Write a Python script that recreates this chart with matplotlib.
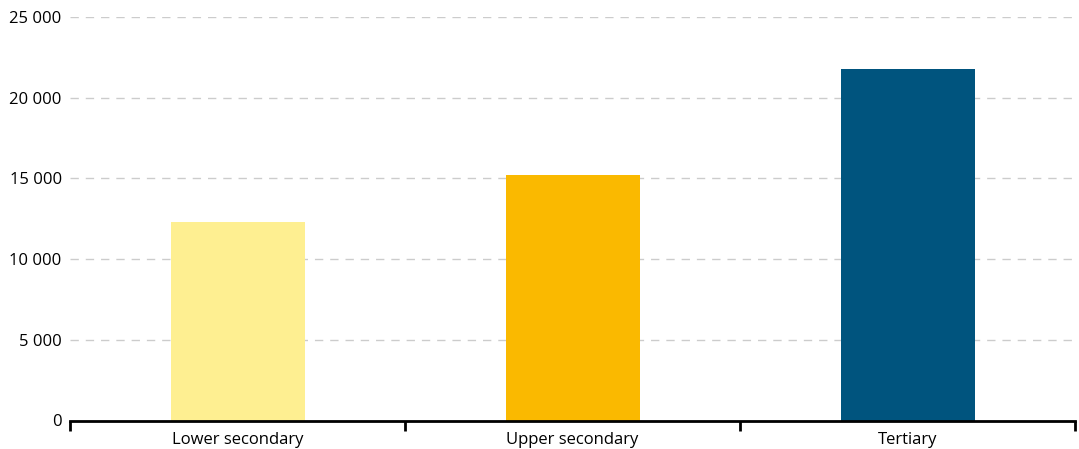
import matplotlib
matplotlib.use("Agg")
import matplotlib.pyplot as plt
from matplotlib.ticker import FuncFormatter, FixedLocator

categories = ["Lower secondary", "Upper secondary", "Tertiary"]
values = [12300, 15200, 21750]
colors = ["#FEEF91", "#FAB900", "#00547E"]

plt.rcParams["font.family"] = ["Open Sans", "DejaVu Sans"]

fig = plt.figure(figsize=(10.79, 4.49), dpi=100)
ax = fig.add_axes([70 / 1079, (449 - 420.5) / 449, 1005 / 1079, (420.5 - 17) / 449])

x = range(len(categories))
ax.bar(x, values, width=0.4, color=colors, zorder=2)

ax.set_xlim(-0.5, 2.5)
ax.set_ylim(0, 25000)
ax.set_yticks(range(0, 25001, 5000))
ax.yaxis.set_major_formatter(FuncFormatter(lambda v, p: f"{int(v):,}".replace(",", " ")))
ax.grid(axis="y", color="#CCCCCC", linestyle=(0, (6, 5)), linewidth=1, zorder=0)

ax.set_xticks(list(x))
ax.set_xticklabels(categories)
ax.xaxis.set_minor_locator(FixedLocator([-0.5, 0.5, 1.5, 2.5]))
ax.tick_params(axis="x", which="major", length=0, pad=8, labelsize=12)
ax.tick_params(axis="x", which="minor", length=7, width=2, direction="out", color="black")
ax.tick_params(axis="y", length=0, pad=6, labelsize=12)

for s in ["top", "right", "left"]:
    ax.spines[s].set_visible(False)
ax.spines["bottom"].set_linewidth(2)
ax.spines["bottom"].set_zorder(3)

fig.savefig("out.png", dpi=100)
